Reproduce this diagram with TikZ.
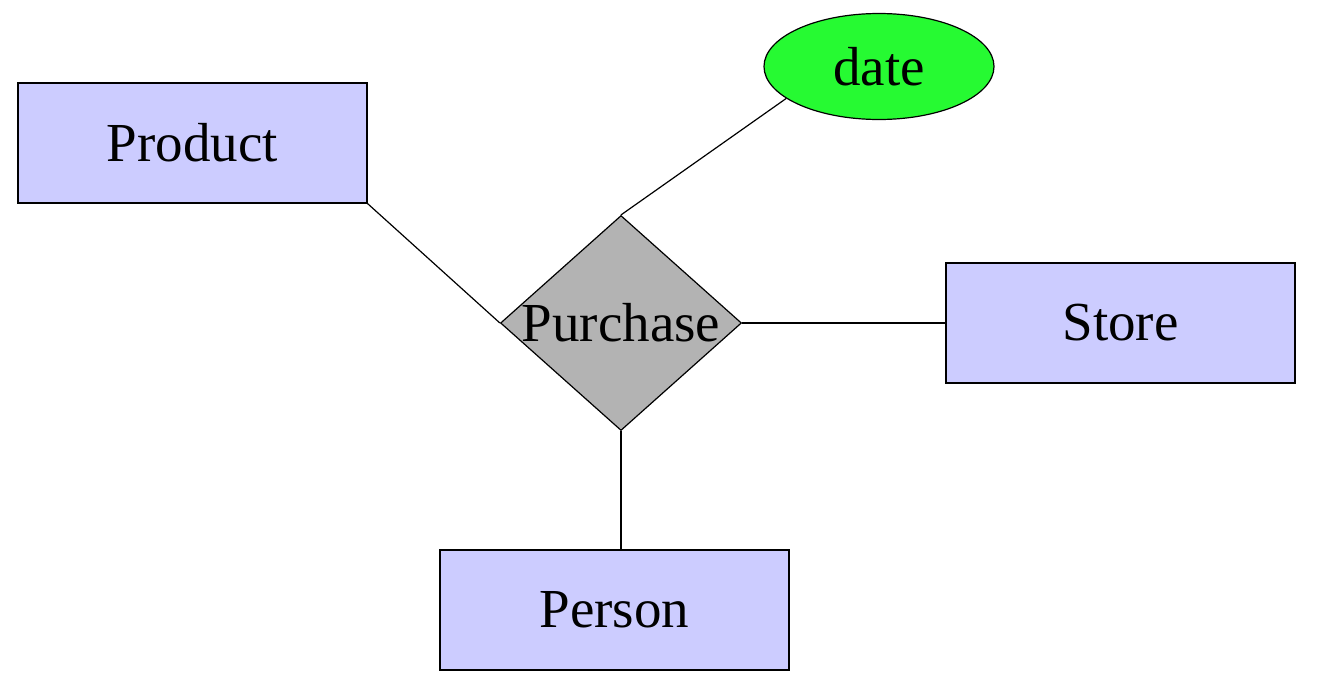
\documentclass[tikz,border=0pt]{standalone}
\usepackage{fontspec}
\setmainfont{Liberation Serif}
\usetikzlibrary{shapes.geometric}
\definecolor{entfill}{RGB}{204,204,255}
\definecolor{relfill}{RGB}{179,179,179}
\definecolor{attrfill}{RGB}{38,250,50}
\tikzset{
  lbl/.style={font=\fontsize{55}{62}\selectfont, inner sep=0},
  entity/.style={draw, fill=entfill, line width=1.2pt, minimum width=349pt, minimum height=120pt, inner sep=0, lbl},
  relation/.style={draw, fill=relfill, diamond, line width=1.2pt, minimum width=241pt, minimum height=215pt, inner sep=0},
  attr/.style={draw, fill=attrfill, ellipse, line width=1.2pt, minimum width=230pt, minimum height=106pt, inner sep=0, lbl},
  link/.style={line width=1.2pt}
}
\begin{document}
\begin{tikzpicture}[x=1pt,y=-1pt]
\useasboundingbox (0,0) rectangle (1320,686);
\node[entity] (prod) at (192.5,143) {Product};
\node[entity] (store) at (1120.5,323) {Store};
\node[entity] (person) at (614.5,610) {Person};
\node[attr] (date) at (879,66.5) {date};
\node[relation] (pur) at (621,323) {};
\node[lbl] (purlbl) at (621,323) {Purchase};
\draw[link] (prod.south east) -- (pur.west);
\draw[link] (date.199) -- (pur.north);
\draw[link] (pur.east) -- (store.west);
\draw[link] (pur.south) -- (person.north -| pur.south);
\end{tikzpicture}
\end{document}
